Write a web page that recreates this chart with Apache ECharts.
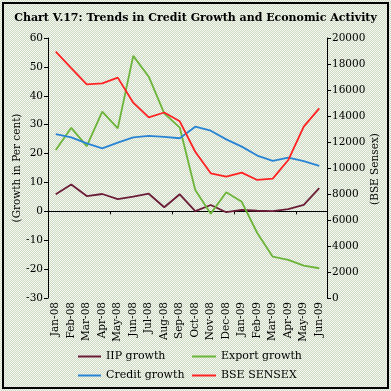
<!DOCTYPE html>
<html>
<head>
<meta charset="utf-8">
<script src="https://cdn.jsdelivr.net/npm/echarts@6/dist/echarts.min.js"></script>
<style>
html,body{margin:0;padding:0;}
body{width:391px;height:391px;background:repeating-conic-gradient(#cddbc4 0 25%, #f6f7f1 0 50%) 0 0/2px 2px;}
#c{width:391px;height:391px;}
</style>
</head>
<body>
<div id="c"></div>
<script>
var categories = ['Jan-08','Feb-08','Mar-08','Apr-08','May-08','Jun-08','Jul-08','Aug-08','Sep-08','Oct-08','Nov-08','Dec-08','Jan-09','Feb-09','Mar-09','Apr-09','May-09','Jun-09'];
var iipGrowth = [5.9, 9.3, 5.3, 6.0, 4.2, 5.1, 6.1, 1.4, 5.9, 0.1, 2.2, -0.3, 0.5, 0.2, 0.1, 0.8, 2.2, 8.0];
var exportGrowth = [21.2, 28.9, 22.6, 34.5, 28.7, 53.8, 46.6, 33.9, 29.0, 7.4, -0.8, 6.6, 3.3, -7.5, -15.7, -16.8, -18.8, -19.7];
var creditGrowth = [26.7, 25.6, 23.5, 21.8, 23.8, 25.6, 26.1, 25.8, 25.3, 29.3, 27.9, 24.9, 22.4, 19.3, 17.5, 18.6, 17.4, 15.7];
var bseSensex = [18950, 17680, 16440, 16515, 16950, 15025, 13900, 14270, 13590, 11250, 9590, 9330, 9640, 9080, 9180, 10615, 13180, 14590];

var F = 'DejaVu Serif';
var chart = echarts.init(document.getElementById('c'), null, {renderer: 'canvas'});
var axisTxt = {fontFamily: F, fontSize: 10.5, color: '#000'};
chart.setOption({
  backgroundColor: 'transparent',
  animation: false,
  title: {
    text: 'Chart V.17: Trends in Credit Growth and Economic Activity',
    left: 'center', top: 8,
    textStyle: {fontFamily: F, fontWeight: 'bold', fontSize: 11, color: '#000'}
  },
  grid: {left: 48, right: 64, top: 38, bottom: 93},
  legend: [
    {orient: 'vertical', left: 78, top: 351, padding: 0, itemGap: 8, itemWidth: 23, itemHeight: 2, icon: 'rect',
     textStyle: {fontFamily: F, fontSize: 11, color: '#000'}, data: ['IIP growth', 'Credit growth']},
    {orient: 'vertical', left: 192, top: 351, padding: 0, itemGap: 8, itemWidth: 24, itemHeight: 2, icon: 'rect',
     textStyle: {fontFamily: F, fontSize: 11, color: '#000'}, data: ['Export growth', 'BSE SENSEX']}
  ],
  xAxis: [
    {type: 'category', data: categories, boundaryGap: true, position: 'bottom',
     axisLine: {onZero: true, lineStyle: {color: '#000', width: 1}},
     axisTick: {show: true, length: 3, lineStyle: {color: '#000'}},
     axisLabel: {show: false}, splitLine: {show: false}},
    {type: 'category', data: categories, boundaryGap: true, position: 'bottom', gridIndex: 0,
     axisLine: {show: false, onZero: false}, axisTick: {show: false},
     axisLabel: Object.assign({rotate: 90, margin: 4, interval: 0}, axisTxt), splitLine: {show: false}}
  ],
  yAxis: [
    {type: 'value', min: -30, max: 60, interval: 10, position: 'left',
     axisLine: {show: true, lineStyle: {color: '#000'}},
     axisTick: {show: true, length: 4, lineStyle: {color: '#000'}},
     axisLabel: Object.assign({margin: 5}, axisTxt), splitLine: {show: false}},
    {type: 'value', min: 0, max: 20000, interval: 2000, position: 'right',
     axisLine: {show: true, lineStyle: {color: '#000'}},
     axisTick: {show: true, length: 4, lineStyle: {color: '#000'}},
     axisLabel: Object.assign({margin: 5, formatter: function (v) { return String(v); }}, axisTxt), splitLine: {show: false}}
  ],
  graphic: [
    {type: 'rect', shape: {x: 3, y: 3, width: 385, height: 385}, style: {fill: 'none', stroke: '#000', lineWidth: 2}, silent: true},
    {type: 'text', x: 17, y: 168, rotation: Math.PI / 2,
     style: {text: '(Growth in Per cent)', fontFamily: F, fontSize: 10.5, fill: '#000', textAlign: 'center', textVerticalAlign: 'middle'}},
    {type: 'text', x: 375, y: 169, rotation: Math.PI / 2,
     style: {text: '(BSE Sensex)', fontFamily: F, fontSize: 10.5, fill: '#000', textAlign: 'center', textVerticalAlign: 'middle'}}
  ],
  series: [
    {name: 'IIP growth', type: 'line', data: iipGrowth, xAxisIndex: 0, yAxisIndex: 0, showSymbol: false,
     lineStyle: {color: '#6b1d38', width: 1.8}, itemStyle: {color: '#6b1d38'}},
    {name: 'Export growth', type: 'line', data: exportGrowth, xAxisIndex: 0, yAxisIndex: 0, showSymbol: false,
     lineStyle: {color: '#6cb43a', width: 1.8}, itemStyle: {color: '#6cb43a'}},
    {name: 'Credit growth', type: 'line', data: creditGrowth, xAxisIndex: 0, yAxisIndex: 0, showSymbol: false,
     lineStyle: {color: '#2a84d4', width: 1.8}, itemStyle: {color: '#2a84d4'}},
    {name: 'BSE SENSEX', type: 'line', data: bseSensex, xAxisIndex: 0, yAxisIndex: 1, showSymbol: false,
     lineStyle: {color: '#ff2323', width: 1.8}, itemStyle: {color: '#ff2323'}}
  ]
});
</script>
</body>
</html>
